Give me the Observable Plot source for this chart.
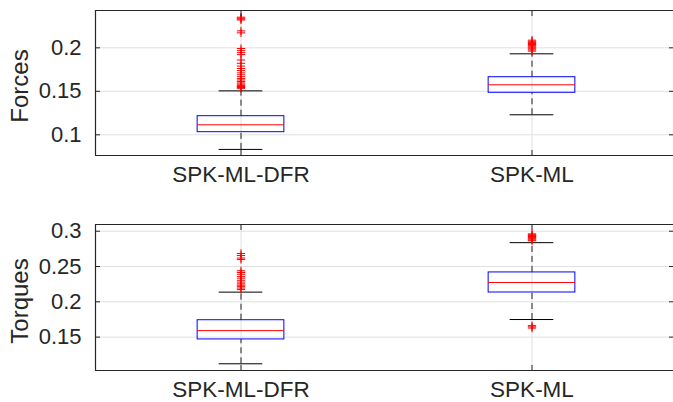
<!DOCTYPE html>
<html>
<head>
<meta charset="utf-8">
<script src="https://cdn.jsdelivr.net/npm/d3@7"></script>
<script src="https://cdn.jsdelivr.net/npm/@observablehq/plot@0.6"></script>
<style>
  html, body { margin: 0; padding: 0; background: #fff; overflow: hidden; }
  #chart { position: relative; width: 673px; height: 402px; }
  .panel { position: absolute; left: 0; }
  .ylab { position: absolute; font-family: "Liberation Sans", Arial, sans-serif; font-size: 24px; color: #262626;
          transform: translate(-50%, -50%) rotate(-90deg); white-space: nowrap; }
</style>
</head>
<body>
<div id="chart"></div>
<script>
const categories = ["SPK-ML-DFR", "SPK-ML"];

// Forces panel
const forcesTicks = [0.1, 0.15, 0.2];
const forcesDomain = [0.0762, 0.2429];
const forcesQ1 = [0.1030, 0.1483];
const forcesMedian = [0.1115, 0.1575];
const forcesQ3 = [0.1214, 0.1662];
const forcesLowerWhisker = [0.0832, 0.1230];
const forcesUpperWhisker = [0.1505, 0.1931];
const forcesOutliersDFR = [0.2352, 0.2341, 0.2330, 0.2320, 0.2195, 0.2172, 0.1992, 0.1968, 0.1945, 0.1922,
  0.1860, 0.1822, 0.1790, 0.1762, 0.1738, 0.1712, 0.1690, 0.1668, 0.1648, 0.1630, 0.1612, 0.1596,
  0.1582, 0.1568, 0.1555, 0.1544, 0.1534];
const forcesOutliersML = [0.2088, 0.2075, 0.2062, 0.2050, 0.2038, 0.2025, 0.2012, 0.2000, 0.1988, 0.1975, 0.1962];

// Torques panel
const torquesTicks = [0.15, 0.2, 0.25, 0.3];
const torquesDomain = [0.1027, 0.3095];
const torquesQ1 = [0.1467, 0.2132];
const torquesMedian = [0.1592, 0.2274];
const torquesQ3 = [0.1739, 0.2416];
const torquesLowerWhisker = [0.1122, 0.1749];
const torquesUpperWhisker = [0.2137, 0.2838];
const torquesOutliersDFR = [0.2685, 0.2655, 0.2620, 0.2600, 0.2440, 0.2415, 0.2390, 0.2360, 0.2335, 0.2305,
  0.2280, 0.2255, 0.2235, 0.2215, 0.2195, 0.2175];
const torquesOutliersML = [0.2962, 0.2950, 0.2938, 0.2925, 0.2912, 0.2900, 0.2888, 0.2875, 0.2865,
  0.1662, 0.1645, 0.1628];

const FONT = '"Liberation Sans", Arial, Helvetica, sans-serif';
const INK = "#262626";
const GRID = "#e0e0e0";

function panel({top, height, marginTop, marginBottom, domain, ticks, q1, med, q3, lo, hi, outliers, label, labelShift}) {
  const rows = categories.map((c, i) => ({pos: i + 1, q1: q1[i], med: med[i], q3: q3[i], lo: lo[i], hi: hi[i]}));
  const pts = outliers.flatMap((arr, i) => arr.map(v => ({pos: i + 1, v})));
  const positions = categories.map((c, i) => i + 1);
  const bw = 0.149, cw = 0.075;
  const svg = Plot.plot({
    width: 673, height, marginLeft: 95, marginRight: 0, marginTop, marginBottom,
    style: {fontFamily: FONT, fontSize: "22px", color: INK, background: "white", overflow: "hidden"},
    x: {domain: [0.5, 2.5], range: [95, 677], axis: null},
    y: {domain, axis: null, label: null},
    marks: [
      Plot.gridY(ticks, {stroke: GRID, strokeOpacity: 1, strokeWidth: 1}),
      Plot.gridX(positions, {stroke: GRID, strokeOpacity: 1, strokeWidth: 1}),
      Plot.ruleX(rows, {x: "pos", y1: "q3", y2: "hi", stroke: "#222", strokeDasharray: "6,4", strokeWidth: 1}),
      Plot.ruleX(rows, {x: "pos", y1: "lo", y2: "q1", stroke: "#222", strokeDasharray: "6,4", strokeWidth: 1}),
      Plot.ruleY(rows, {y: "hi", x1: d => d.pos - cw, x2: d => d.pos + cw, stroke: "#000", strokeWidth: 1}),
      Plot.ruleY(rows, {y: "lo", x1: d => d.pos - cw, x2: d => d.pos + cw, stroke: "#000", strokeWidth: 1}),
      Plot.rect(rows, {x1: d => d.pos - bw, x2: d => d.pos + bw, y1: "q1", y2: "q3", fill: "white", fillOpacity: 0, stroke: "#0000ff", strokeWidth: 1}),
      Plot.ruleY(rows, {y: "med", x1: d => d.pos - bw, x2: d => d.pos + bw, stroke: "#ff0000", strokeWidth: 1}),
      Plot.dot(pts, {x: "pos", y: "v", symbol: "plus", r: 2.8, stroke: "#ff0000", strokeWidth: 1}),
      Plot.ruleY(domain, {stroke: INK, strokeWidth: 1.2}),
      Plot.ruleX([0.5], {stroke: INK, strokeWidth: 1.2}),
      Plot.axisY(ticks, {anchor: "left", tickSize: -5, tickFormat: () => "", label: null, stroke: INK}),
      Plot.axisY(ticks, {anchor: "right", tickSize: -5, tickFormat: () => "", label: null, stroke: INK}),
      Plot.axisY(ticks, {anchor: "left", tickSize: 0, tickPadding: 14, tickFormat: d => String(d), label: null, fill: INK}),
      Plot.axisX(positions, {anchor: "top", tickSize: -5, tickFormat: () => "", label: null, stroke: INK}),
      Plot.axisX(positions, {anchor: "bottom", tickSize: -5, tickFormat: () => "", label: null, stroke: INK}),
      Plot.axisX(positions, {anchor: "bottom", tickSize: 0, tickPadding: 11, fontSize: 22.5, tickFormat: d => categories[d - 1], label: null, fill: INK})
    ]
  });
  const wrap = document.createElement("div");
  wrap.className = "panel";
  wrap.style.top = top + "px";
  wrap.appendChild(svg);
  const lab = document.createElement("div");
  lab.className = "ylab";
  lab.textContent = label;
  lab.style.left = "20px";
  lab.style.top = (marginTop + (height - marginTop - marginBottom) / 2 + labelShift) + "px";
  wrap.appendChild(lab);
  document.getElementById("chart").appendChild(wrap);
}

panel({top: 0, height: 200, marginTop: 10, marginBottom: 45, domain: forcesDomain, ticks: forcesTicks,
  q1: forcesQ1, med: forcesMedian, q3: forcesQ3, lo: forcesLowerWhisker, hi: forcesUpperWhisker,
  outliers: [forcesOutliersDFR, forcesOutliersML], label: "Forces", labelShift: 3});
panel({top: 200, height: 202, marginTop: 24, marginBottom: 32, domain: torquesDomain, ticks: torquesTicks,
  q1: torquesQ1, med: torquesMedian, q3: torquesQ3, lo: torquesLowerWhisker, hi: torquesUpperWhisker,
  outliers: [torquesOutliersDFR, torquesOutliersML], label: "Torques", labelShift: 4});
</script>
</body>
</html>
